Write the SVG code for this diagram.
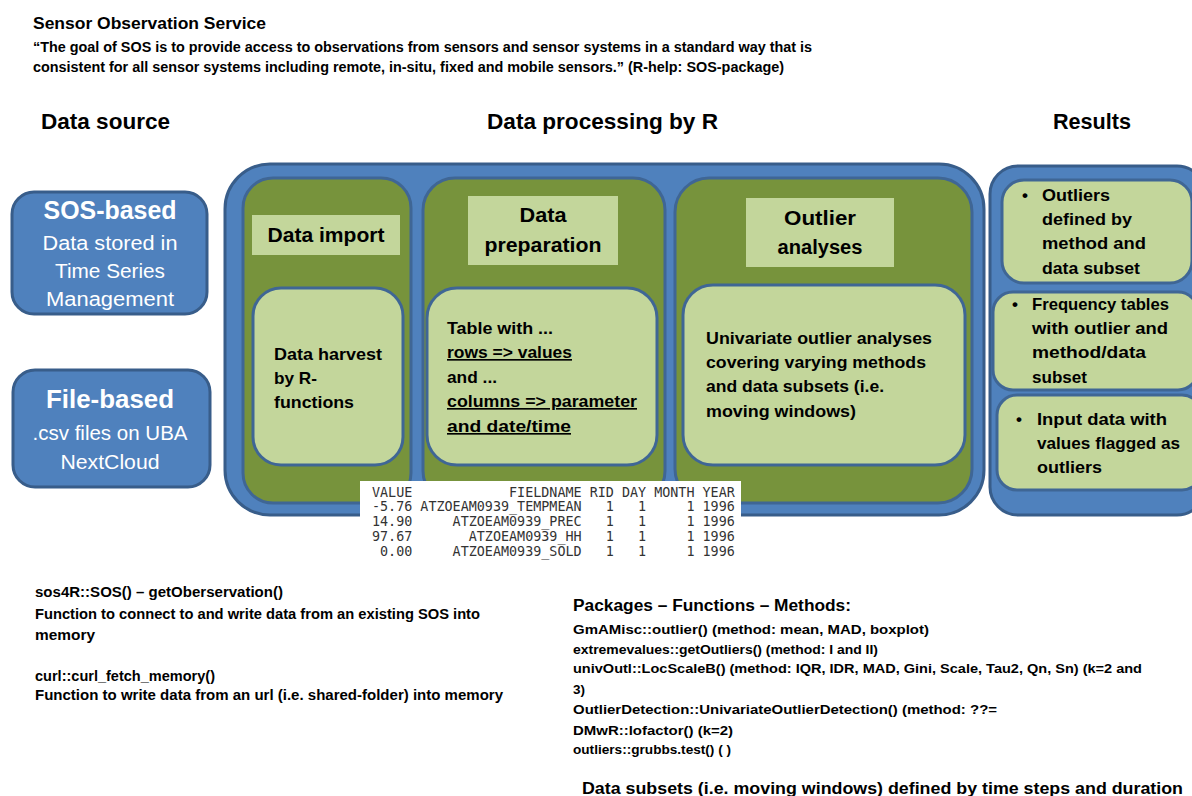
<svg xmlns="http://www.w3.org/2000/svg" width="1192" height="796" viewBox="0 0 1192 796">
<style>
.t{font-family:"Liberation Sans",Arial,sans-serif;font-weight:bold;fill:#000}
.w{font-family:"Liberation Sans",Arial,sans-serif;fill:#fff}
.blue{fill:#4F81BD;stroke:#385D8A;stroke-width:3}
.green{fill:#77933C;stroke:#3F6695;stroke-width:3}
.lite{fill:#C3D69B;stroke:#3F6695;stroke-width:3}
.hdr{fill:#C3D69B}
.mono{font-family:"DejaVu Sans Mono","Liberation Mono",monospace;font-size:13.4px;fill:#333;white-space:pre}
.u{text-decoration:underline}
</style>
<rect width="1192" height="796" fill="#fff"/>

<g id="intro">
<text class="t" x="33" y="29" font-size="16.5" textLength="233" lengthAdjust="spacingAndGlyphs">Sensor Observation Service</text>
<text class="t" x="33" y="52" font-size="14" textLength="779" lengthAdjust="spacingAndGlyphs">“The goal of SOS is to provide access to observations from sensors and sensor systems in a standard way that is</text>
<text class="t" x="33" y="72" font-size="14" textLength="751" lengthAdjust="spacingAndGlyphs">consistent for all sensor systems including remote, in-situ, fixed and mobile sensors.” (R-help: SOS-package)</text>
</g>

<g id="headings">
<text class="t" x="41" y="129" font-size="22" textLength="129" lengthAdjust="spacingAndGlyphs">Data source</text>
<text class="t" x="487" y="129" font-size="22" textLength="231" lengthAdjust="spacingAndGlyphs">Data processing  by R</text>
<text class="t" x="1053" y="129" font-size="22" textLength="78" lengthAdjust="spacingAndGlyphs">Results</text>
</g>

<g id="sos-based">
<rect class="blue" x="12" y="192" width="195" height="122" rx="22"/>
<text class="w" x="110" y="219" font-size="25" font-weight="bold" text-anchor="middle" textLength="133" lengthAdjust="spacingAndGlyphs">SOS-based</text>
<text class="w" x="110" y="250" font-size="20" text-anchor="middle" textLength="135" lengthAdjust="spacingAndGlyphs">Data stored in</text>
<text class="w" x="110" y="278" font-size="20" text-anchor="middle" textLength="110" lengthAdjust="spacingAndGlyphs">Time Series</text>
<text class="w" x="110" y="306" font-size="20" text-anchor="middle" textLength="128" lengthAdjust="spacingAndGlyphs">Management</text>
</g>

<g id="file-based">
<rect class="blue" x="13" y="370" width="197" height="117" rx="22"/>
<text class="w" x="110" y="408" font-size="25" font-weight="bold" text-anchor="middle" textLength="128" lengthAdjust="spacingAndGlyphs">File-based</text>
<text class="w" x="110" y="440" font-size="20" text-anchor="middle" textLength="155" lengthAdjust="spacingAndGlyphs">.csv files on UBA</text>
<text class="w" x="110" y="469" font-size="20" text-anchor="middle" textLength="99" lengthAdjust="spacingAndGlyphs">NextCloud</text>
</g>

<g id="processing">
<rect class="blue" x="225" y="164" width="759" height="351" rx="45"/>
</g>

<g id="data-import">
<rect class="green" x="243" y="178" width="168" height="325" rx="30"/>
<rect class="hdr" x="252" y="215" width="148" height="40"/>
<text class="t" x="326" y="242" font-size="20" text-anchor="middle" textLength="117" lengthAdjust="spacingAndGlyphs">Data import</text>
<rect class="lite" x="253" y="288" width="150" height="177" rx="28"/>
<text class="t" x="274" y="360" font-size="16.5" textLength="108" lengthAdjust="spacingAndGlyphs">Data harvest</text>
<text class="t" x="274" y="384" font-size="16.5" textLength="43" lengthAdjust="spacingAndGlyphs">by R-</text>
<text class="t" x="274" y="408" font-size="16.5" textLength="80" lengthAdjust="spacingAndGlyphs">functions</text>
</g>

<g id="data-preparation">
<rect class="green" x="423" y="178" width="242" height="325" rx="32"/>
<rect class="hdr" x="468" y="196" width="150" height="69"/>
<text class="t" x="543" y="222" font-size="20" text-anchor="middle" textLength="47" lengthAdjust="spacingAndGlyphs">Data</text>
<text class="t" x="543" y="252" font-size="20" text-anchor="middle" textLength="117" lengthAdjust="spacingAndGlyphs">preparation</text>
<rect class="lite" x="427" y="288" width="230" height="177" rx="30"/>
<text class="t" x="447" y="334" font-size="16.5" textLength="106" lengthAdjust="spacingAndGlyphs">Table with ...</text>
<text class="t u" x="447" y="358" font-size="16.5" textLength="125" lengthAdjust="spacingAndGlyphs">rows =&gt; values</text>
<text class="t" x="447" y="383" font-size="16.5" textLength="50" lengthAdjust="spacingAndGlyphs">and ...</text>
<text class="t u" x="447" y="407" font-size="16.5" textLength="190" lengthAdjust="spacingAndGlyphs">columns =&gt; parameter</text>
<text class="t u" x="447" y="432" font-size="16.5" textLength="124" lengthAdjust="spacingAndGlyphs">and date/time</text>
</g>

<g id="outlier-analyses">
<rect class="green" x="675" y="178" width="297" height="325" rx="34"/>
<rect class="hdr" x="746" y="198" width="148" height="69"/>
<text class="t" x="820" y="225" font-size="20" text-anchor="middle" textLength="72" lengthAdjust="spacingAndGlyphs">Outlier</text>
<text class="t" x="820" y="254" font-size="20" text-anchor="middle" textLength="85" lengthAdjust="spacingAndGlyphs">analyses</text>
<rect class="lite" x="683" y="285" width="282" height="180" rx="30"/>
<text class="t" x="706" y="344" font-size="16.5" textLength="226" lengthAdjust="spacingAndGlyphs">Univariate outlier analyses</text>
<text class="t" x="706" y="368" font-size="16.5" textLength="220" lengthAdjust="spacingAndGlyphs">covering varying methods</text>
<text class="t" x="706" y="392" font-size="16.5" textLength="178" lengthAdjust="spacingAndGlyphs">and data subsets (i.e.</text>
<text class="t" x="706" y="417" font-size="16.5" textLength="150" lengthAdjust="spacingAndGlyphs">moving windows)</text>
</g>

<g id="table">
<rect x="360" y="481" width="381" height="85" fill="#fff"/>
<text class="mono" x="372" y="497" xml:space="preserve">VALUE            FIELDNAME RID DAY MONTH YEAR</text>
<text class="mono" x="372" y="511" xml:space="preserve">-5.76 ATZOEAM0939_TEMPMEAN   1   1     1 1996</text>
<text class="mono" x="372" y="526" xml:space="preserve">14.90     ATZOEAM0939_PREC   1   1     1 1996</text>
<text class="mono" x="372" y="541" xml:space="preserve">97.67       ATZOEAM0939_HH   1   1     1 1996</text>
<text class="mono" x="372" y="556" xml:space="preserve"> 0.00     ATZOEAM0939_SOLD   1   1     1 1996</text>
</g>

<g id="results">
<rect class="blue" x="990" y="166" width="215" height="349" rx="28"/>
</g>
<g id="result-outliers">
<rect class="lite" x="1002" y="180" width="190" height="103" rx="22"/>
<text class="t" x="1022" y="201" font-size="17">•</text>
<text class="t" x="1042" y="201" font-size="17" textLength="68" lengthAdjust="spacingAndGlyphs">Outliers</text>
<text class="t" x="1042" y="225" font-size="17" textLength="90" lengthAdjust="spacingAndGlyphs">defined by</text>
<text class="t" x="1042" y="249" font-size="17" textLength="104" lengthAdjust="spacingAndGlyphs">method and</text>
<text class="t" x="1042" y="274" font-size="17" textLength="98" lengthAdjust="spacingAndGlyphs">data subset</text>
</g>
<g id="result-frequency">
<rect class="lite" x="993" y="292" width="205" height="98" rx="20"/>
<text class="t" x="1012" y="310" font-size="17">•</text>
<text class="t" x="1032" y="310" font-size="17" textLength="137" lengthAdjust="spacingAndGlyphs">Frequency tables</text>
<text class="t" x="1032" y="334" font-size="17" textLength="136" lengthAdjust="spacingAndGlyphs">with outlier and</text>
<text class="t" x="1032" y="358" font-size="17" textLength="114" lengthAdjust="spacingAndGlyphs">method/data</text>
<text class="t" x="1032" y="383" font-size="17" textLength="55" lengthAdjust="spacingAndGlyphs">subset</text>
</g>
<g id="result-input">
<rect class="lite" x="997" y="395" width="205" height="95" rx="20"/>
<text class="t" x="1016" y="425" font-size="17">•</text>
<text class="t" x="1037" y="425" font-size="17" textLength="130" lengthAdjust="spacingAndGlyphs">Input data with</text>
<text class="t" x="1037" y="449" font-size="17" textLength="143" lengthAdjust="spacingAndGlyphs">values flagged as</text>
<text class="t" x="1037" y="473" font-size="17" textLength="65" lengthAdjust="spacingAndGlyphs">outliers</text>
</g>

<g id="import-notes">
<text class="t" x="35" y="597" font-size="14" textLength="248" lengthAdjust="spacingAndGlyphs">sos4R::SOS() – getOberservation()</text>
<text class="t" x="35" y="619" font-size="14" textLength="445" lengthAdjust="spacingAndGlyphs">Function to connect to and write data from an existing SOS into</text>
<text class="t" x="35" y="640" font-size="14" textLength="60" lengthAdjust="spacingAndGlyphs">memory</text>
<text class="t" x="35" y="681" font-size="14" textLength="180" lengthAdjust="spacingAndGlyphs">curl::curl_fetch_memory()</text>
<text class="t" x="35" y="700" font-size="14" textLength="468" lengthAdjust="spacingAndGlyphs">Function to write data from an url (i.e. shared-folder) into memory</text>
</g>

<g id="methods-notes">
<text class="t" x="573" y="611" font-size="16" textLength="278" lengthAdjust="spacingAndGlyphs">Packages – Functions – Methods:</text>
<text class="t" x="573" y="634" font-size="13.5" textLength="356" lengthAdjust="spacingAndGlyphs">GmAMisc::outlier()  (method: mean, MAD, boxplot)</text>
<text class="t" x="573" y="654" font-size="13.5" textLength="305" lengthAdjust="spacingAndGlyphs">extremevalues::getOutliers() (method: I and II)</text>
<text class="t" x="573" y="673" font-size="13.5" textLength="569" lengthAdjust="spacingAndGlyphs">univOutl::LocScaleB()  (method: IQR, IDR, MAD, Gini, Scale, Tau2, Qn, Sn) (k=2 and</text>
<text class="t" x="573" y="694" font-size="13.5" textLength="12" lengthAdjust="spacingAndGlyphs">3)</text>
<text class="t" x="573" y="714" font-size="13.5" textLength="424" lengthAdjust="spacingAndGlyphs">OutlierDetection::UnivariateOutlierDetection() (method: ??=</text>
<text class="t" x="573" y="735" font-size="13.5" textLength="160" lengthAdjust="spacingAndGlyphs">DMwR::lofactor()  (k=2)</text>
<text class="t" x="573" y="754" font-size="13.5" textLength="158" lengthAdjust="spacingAndGlyphs">outliers::grubbs.test() ( )</text>
<text class="t" x="582" y="794" font-size="17" textLength="601" lengthAdjust="spacingAndGlyphs">Data subsets (i.e. moving windows) defined by time steps and duration</text>
</g>
</svg>
